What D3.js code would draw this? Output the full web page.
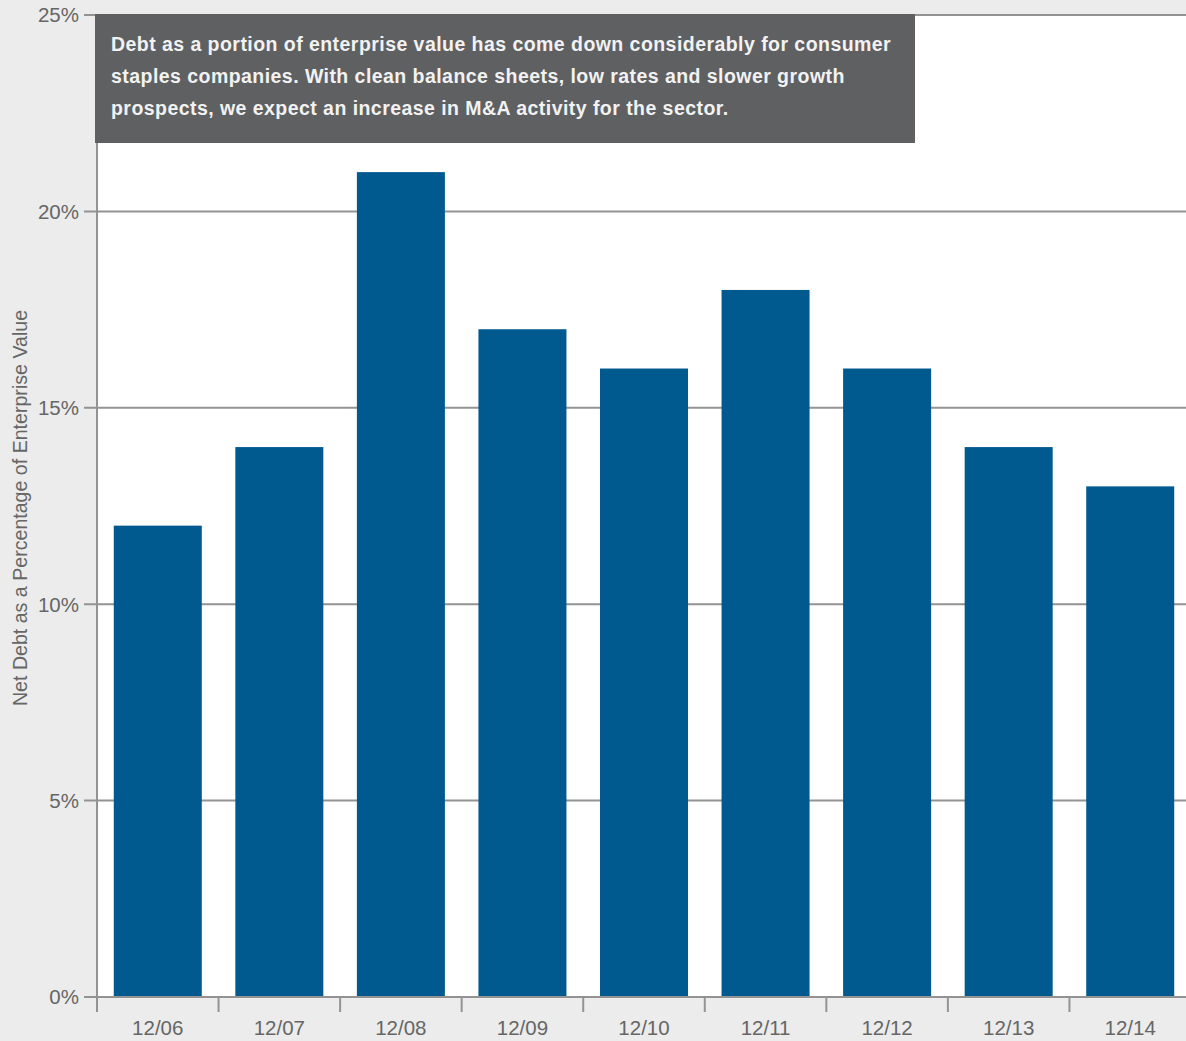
<!DOCTYPE html>
<html>
<head>
<meta charset="utf-8">
<script src="https://cdn.jsdelivr.net/npm/d3@7"></script>
<style>
  body { margin: 0; background: #ebeceb; }
  svg { display: block; }
</style>
</head>
<body>
<script>
// data
var periods = ["12/06", "12/07", "12/08", "12/09", "12/10", "12/11", "12/12", "12/13", "12/14"];
var netDebtPct = [12, 14, 21, 17, 16, 18, 16, 14, 13];
var yTicks = [0, 5, 10, 15, 20, 25];
var noteLines = [
  "Debt as a portion of enterprise value has come down considerably for consumer",
  "staples companies. With clean balance sheets, low rates and slower growth",
  "prospects, we expect an increase in M&A activity for the sector."
];

var width = 1186, height = 1041;
var margin = {top: 15, right: -5, bottom: 44, left: 97};
var font = "'Liberation Sans', Arial, sans-serif";

var svg = d3.select("body").append("svg")
  .attr("width", width)
  .attr("height", height);

var x = d3.scaleBand()
  .domain(periods)
  .range([margin.left, width - margin.right])
  .paddingInner(0.276)
  .paddingOuter(0.138);

var y = d3.scaleLinear()
  .domain([0, 25])
  .range([height - margin.bottom, margin.top]);

// white plot area
svg.append("rect")
  .attr("x", margin.left)
  .attr("y", y(25))
  .attr("width", width - margin.left)
  .attr("height", y(0) - y(25))
  .attr("fill", "#fff");

// gridlines + y ticks
svg.append("g").selectAll("line")
  .data(yTicks)
  .enter().append("line")
  .attr("x1", margin.left - 13)
  .attr("x2", width)
  .attr("y1", d => y(d))
  .attr("y2", d => y(d))
  .attr("stroke", "#939393")
  .attr("stroke-width", 2);

// y tick labels
svg.append("g").selectAll("text")
  .data(yTicks)
  .enter().append("text")
  .attr("x", 79)
  .attr("y", d => y(d))
  .attr("dy", "0.36em")
  .attr("text-anchor", "end")
  .attr("font-family", font)
  .attr("font-size", 20.5)
  .attr("fill", "#666")
  .text(d => d + "%");

// bars
svg.append("g").selectAll("rect")
  .data(netDebtPct)
  .enter().append("rect")
  .attr("x", (d, i) => x(periods[i]))
  .attr("y", d => y(d))
  .attr("width", x.bandwidth())
  .attr("height", d => y(0) - y(d))
  .attr("fill", "#005a8f");

// bottom baseline
svg.append("line")
  .attr("x1", margin.left - 13)
  .attr("x2", width)
  .attr("y1", y(0))
  .attr("y2", y(0))
  .attr("stroke", "#939393")
  .attr("stroke-width", 2);

// vertical axis line
svg.append("line")
  .attr("x1", margin.left)
  .attr("x2", margin.left)
  .attr("y1", y(25))
  .attr("y2", y(0) + 15)
  .attr("stroke", "#939393")
  .attr("stroke-width", 2);

// x ticks at band boundaries
var step = x.step();
var xTickPos = periods.map((p, i) => margin.left + i * step);
svg.append("g").selectAll("line")
  .data(xTickPos)
  .enter().append("line")
  .attr("x1", d => d)
  .attr("x2", d => d)
  .attr("y1", y(0))
  .attr("y2", y(0) + 15)
  .attr("stroke", "#939393")
  .attr("stroke-width", 2);

// x labels
svg.append("g").selectAll("text")
  .data(periods)
  .enter().append("text")
  .attr("x", d => x(d) + x.bandwidth() / 2)
  .attr("y", 1035)
  .attr("text-anchor", "middle")
  .attr("font-family", font)
  .attr("font-size", 20.5)
  .attr("fill", "#666")
  .text(d => d);

// y axis title
svg.append("text")
  .attr("transform", "translate(27,508) rotate(-90)")
  .attr("text-anchor", "middle")
  .attr("font-family", font)
  .attr("font-size", 19.6)
  .attr("fill", "#666")
  .text("Net Debt as a Percentage of Enterprise Value");

// annotation box
var note = svg.append("g");
note.append("rect")
  .attr("x", 95)
  .attr("y", 14)
  .attr("width", 820)
  .attr("height", 129)
  .attr("fill", "#5f6062");
note.selectAll("text")
  .data(noteLines)
  .enter().append("text")
  .attr("x", 111)
  .attr("y", (d, i) => 51 + i * 32)
  .attr("font-family", font)
  .attr("font-weight", "bold")
  .attr("font-size", 19.5)
  .attr("letter-spacing", 0.45)
  .attr("fill", "#f2f2f2")
  .text(d => d);
</script>
</body>
</html>
